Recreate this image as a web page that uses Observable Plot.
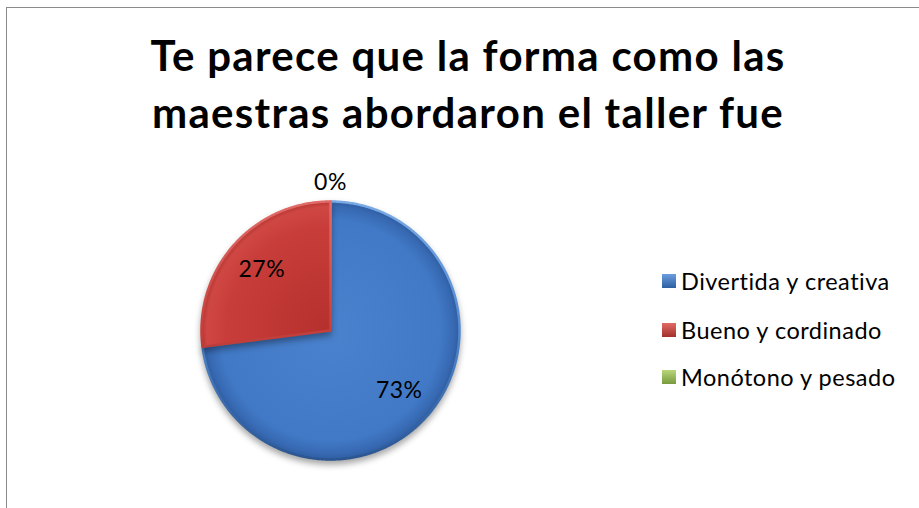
<!DOCTYPE html>
<html><head><meta charset="utf-8">
<script src="https://cdn.jsdelivr.net/npm/d3@7"></script>
<script src="https://cdn.jsdelivr.net/npm/@observablehq/plot@0.6"></script>
<style>
body{margin:0;background:#fff;}
#wrap{position:relative;width:919px;height:508px;overflow:hidden;font-family:Lato,"Open Sans",sans-serif;background:#fff;}
#frame{position:absolute;left:6px;top:7px;width:1000px;height:700px;border:1px solid #8a8a8a;}
#title{position:absolute;left:0;width:936px;top:27px;text-align:center;font-weight:bold;font-size:42px;line-height:57px;letter-spacing:1.3px;color:#000;}
#chart{position:absolute;left:0;top:0;}
.item{position:absolute;left:662px;display:flex;align-items:center;font-size:23.5px;letter-spacing:0.5px;color:#000;white-space:nowrap;}
.sw{width:14px;height:14px;margin-right:5px;box-sizing:border-box;}
</style></head>
<body>
<div id="wrap">
  <div id="frame"></div>
  <div id="title">Te parece que la forma como las<br>maestras abordaron el taller fue</div>
  <div id="chart"></div>
  <div id="legend"></div>
</div>
<script>
const categories = ["Divertida y creativa", "Bueno y cordinado", "Monótono y pesado"];
const values = [73, 27, 0];
const pctLabels = ["73%", "27%", "0%"];
const gradIds = ["gBlue", "gRed", "gGreen"];
const edgeIds = ["lBlue", "lRed", "lGreen"];

const arcs = d3.pie().sort(null).value(d => d)(values);

function slicePoints(a) {
  const pts = [{x: 0, y: 0}];
  const span = a.endAngle - a.startAngle;
  const n = Math.max(2, Math.ceil(span / 0.01));
  for (let k = 0; k <= n; k++) {
    const t = a.startAngle + span * k / n;
    pts.push({x: Math.sin(t), y: Math.cos(t)});
  }
  pts.push({x: 0, y: 0});
  return pts;
}

const labelData = arcs.map((a, i) => {
  const mid = (a.startAngle + a.endAngle) / 2;
  const r = values[i] === 0 ? 1.15 : 0.71;
  return {x: Math.sin(mid) * r, y: Math.cos(mid) * r, label: pctLabels[i]};
});

const sliceMarks = arcs.filter(a => a.endAngle > a.startAngle).map(a =>
  Plot.line(slicePoints(a), {x: "x", y: "y", fill: `url(#${gradIds[a.index]})`,
    stroke: `url(#${edgeIds[a.index]})`, strokeWidth: 2.5, strokeLinejoin: "round", strokeOpacity: 1})
);

const chart = Plot.plot({
  width: 919,
  height: 508,
  margin: 0,
  x: {domain: [-1, 1], range: [201, 459], axis: null},
  y: {domain: [-1, 1], range: [459, 201], axis: null},
  marks: [
    ...sliceMarks,
    Plot.text(labelData, {x: "x", y: "y", text: "label", fontSize: 23, fill: "#000"})
  ],
  style: {fontFamily: "Lato, 'Open Sans', sans-serif", background: "transparent", letterSpacing: "0.5px"}
});

const defs = `<defs>
<radialGradient id="gBlue" gradientUnits="userSpaceOnUse" cx="330" cy="330" r="130">
 <stop offset="0" stop-color="#4a82ce"/><stop offset="0.85" stop-color="#4179c6"/>
 <stop offset="0.95" stop-color="#3769b2"/><stop offset="1" stop-color="#2d5a9c"/></radialGradient>
<radialGradient id="gRed" gradientUnits="userSpaceOnUse" cx="330" cy="330" r="130">
 <stop offset="0" stop-color="#b5302d"/><stop offset="0.8" stop-color="#c83d39"/>
 <stop offset="0.95" stop-color="#cf4743"/><stop offset="1" stop-color="#b2332f"/></radialGradient>
<radialGradient id="gGreen" gradientUnits="userSpaceOnUse" cx="330" cy="330" r="130">
 <stop offset="0" stop-color="#9bbb59"/><stop offset="1" stop-color="#7a9a3e"/></radialGradient>
<linearGradient id="lBlue" gradientUnits="userSpaceOnUse" x1="0" y1="200" x2="0" y2="460"><stop offset="0" stop-color="#7aaae6"/><stop offset="0.5" stop-color="#5289d0"/><stop offset="1" stop-color="#2a5590"/></linearGradient>
<linearGradient id="lRed" gradientUnits="userSpaceOnUse" x1="0" y1="200" x2="0" y2="460"><stop offset="0" stop-color="#e26b67"/><stop offset="0.5" stop-color="#c4403c"/><stop offset="1" stop-color="#8f2724"/></linearGradient>
<linearGradient id="lGreen" gradientUnits="userSpaceOnUse" x1="0" y1="200" x2="0" y2="460"><stop offset="0" stop-color="#b9d67a"/><stop offset="1" stop-color="#7a9a3e"/></linearGradient>
</defs>`;
chart.insertAdjacentHTML("afterbegin", defs);
chart.querySelectorAll("g[aria-label='line']").forEach(g => g.style.filter = "drop-shadow(0px 4px 3px rgba(0,0,0,0.35))");
document.getElementById("chart").appendChild(chart);

const legendTops = [281, 330, 377];
const swatchFills = ["linear-gradient(#6a9ee0,#2f5f9f)", "linear-gradient(#e06a66,#a3302c)", "linear-gradient(#b9d67a,#7a9a3e)"];
const legend = document.getElementById("legend");
categories.forEach((c, i) => {
  const d = document.createElement("div");
  d.className = "item";
  d.style.top = (legendTops[i] - 14) + "px";
  d.style.height = "28px";
  d.innerHTML = `<div class="sw" style="background:${swatchFills[i]}"></div><span>${c}</span>`;
  legend.appendChild(d);
});
</script>
</body></html>
